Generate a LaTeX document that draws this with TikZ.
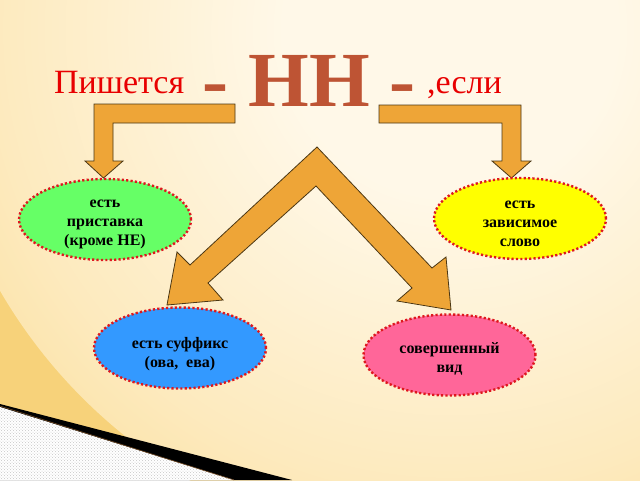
\documentclass[tikz,border=0pt]{standalone}
\usepackage{fontspec}
\setmainfont{Liberation Serif}
\usetikzlibrary{shapes.geometric,patterns}
\definecolor{arrowfill}{RGB}{238,165,55}
\definecolor{arrowline}{RGB}{75,55,20}
\definecolor{hnbrown}{RGB}{190,84,52}
\definecolor{txtred}{RGB}{232,0,0}
\definecolor{dotred}{RGB}{222,24,30}
\definecolor{bgdark}{RGB}{247,210,122}
\definecolor{bgmid}{RGB}{249,218,140}
\definecolor{bgmidlight}{RGB}{253,234,190}
\definecolor{bglight}{RGB}{255,248,232}
\definecolor{greenfill}{RGB}{102,255,102}
\definecolor{yellowfill}{RGB}{255,255,0}
\definecolor{bluefill}{RGB}{51,153,255}
\definecolor{pinkfill}{RGB}{255,102,153}
\pgfdeclareradialshading{bgshade}{\pgfpoint{0bp}{0bp}}{color(0bp)=(bglight); color(8bp)=(bglight); color(22bp)=(bgmidlight); color(34bp)=(bgmid); color(48bp)=(bgdark); color(50bp)=(bgdark)}
\begin{document}
\begin{tikzpicture}[x=1pt,y=-1pt,
  blockarrow/.style={fill=arrowfill, draw=arrowline, line width=0.8pt, line join=miter},
  bubble/.style={ellipse, draw=dotred, line width=2.4pt, dash pattern=on 2.2pt off 2.2pt,
    minimum width=172pt, minimum height=81pt, inner sep=0pt},
  bubbletext/.style={inner sep=0pt, align=center,
    font=\bfseries\fontsize{16}{19}\selectfont, text=black},
  headline/.style={inner sep=0pt, text=txtred, font=\fontsize{34}{40}\selectfont}]
\useasboundingbox (0,0) rectangle (640,480);
% background
\fill[bgdark] (0,0) rectangle (640,480);
\begin{scope}
  \clip (0,0) rectangle (640,480);
  \shade[shading=bgshade] (450,30) circle (520pt);
\end{scope}
% page curl
\fill[black] (0,404) -- (292,480) -- (0,480) -- cycle;
\fill[white] (0,407) -- (234,480) -- (0,480) -- cycle;
\fill[pattern=crosshatch dots, pattern color=gray!45] (0,407) -- (234,480) -- (0,480) -- cycle;
\draw[brown!60!black, line width=0.6pt] (0,406) -- (234,480);
% title
\node[headline, anchor=base west] (pish) at (54,93) {Пишется};
\node[headline, anchor=base west] (esli) at (427,93) {,если};
\node[inner sep=0pt, anchor=base, text=hnbrown, font=\bfseries\fontsize{78}{80}\selectfont] (nn) at (309,106) {- НН -};
% block arrows
\draw[blockarrow] (94,104) -- (235,104) -- (235,123) -- (113,123) -- (113,161) -- (123,161)
  -- (103.5,178) -- (85,161) -- (94,161) -- cycle;
\draw[blockarrow] (379,105) -- (521,105) -- (521,161) -- (531,161) -- (511.5,178)
  -- (492,161) -- (502,161) -- (502,123) -- (379,123) -- cycle;
\draw[blockarrow] (317,147) -- (190,265) -- (177,252) -- (167,305) -- (223,300) -- (208,283)
  -- (316,186) -- (412,288) -- (397,301) -- (451,310) -- (446,257) -- (432,268) -- cycle;
% ellipses
\node[bubble, fill=greenfill] (pref) at (105,219.5) {};
\node[bubble, fill=yellowfill] (dep) at (520,218.5) {};
\node[bubble, fill=bluefill] (suf) at (180,348) {};
\node[bubble, fill=pinkfill] (perf) at (449.5,355) {};
\node[bubbletext] (preft) at (105,224.5) {есть\\приставка\\(кроме НЕ)};
\node[bubbletext] (dept) at (520,223.5) {есть\\зависимое\\слово};
\node[bubbletext] (suft) at (180,354) {есть суффикс\\(ова,\ \ ева)};
\node[bubbletext] (perft) at (449.5,359) {совершенный\\вид};
\end{tikzpicture}
\end{document}
